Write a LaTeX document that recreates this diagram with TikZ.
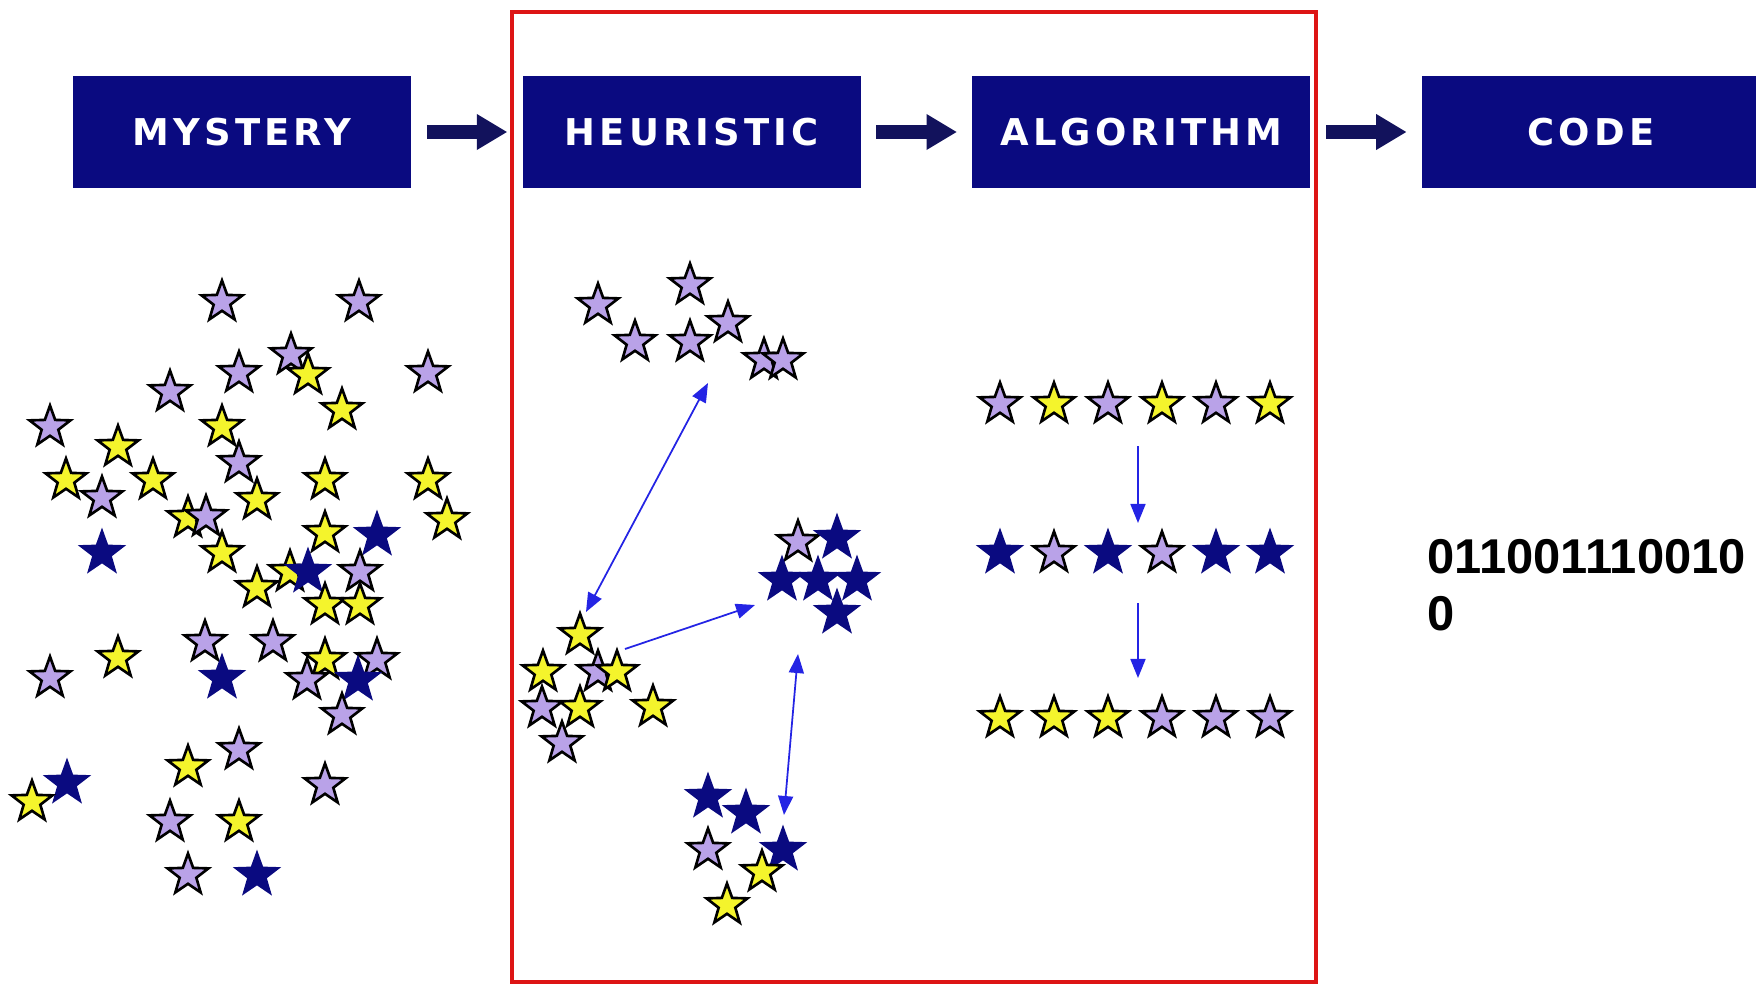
\documentclass[tikz,border=0pt]{standalone}
\usepackage{fontspec}
\usepackage{tikz}
\usetikzlibrary{arrows.meta,positioning,shapes.geometric}
\setmainfont{Liberation Sans}
\newfontfamily\headfont[LetterSpace=11]{DejaVu Sans}
\definecolor{Navy}{HTML}{0A0A80}
\definecolor{DeepNavy}{HTML}{12125C}
\definecolor{Lilac}{HTML}{B9A2E8}
\definecolor{StarYellow}{HTML}{F4F42C}
\definecolor{FrameRed}{HTML}{DD1515}
\definecolor{LinkBlue}{HTML}{2424E4}

\begin{document}
\begin{tikzpicture}[x=0.01cm, y=-0.01cm, node distance=1.1cm, >={Triangle[length=0.19cm, width=0.15cm]}]
\tikzset{box/.style={fill=Navy, minimum width=3.38cm, minimum height=1.12cm, inner sep=0pt, text=white, font=\headfont\bfseries\fontsize{10.5}{12}\selectfont}, blockarrow/.style={draw=DeepNavy, line width=0.14cm, -{Triangle[length=0.3cm, width=0.36cm, line width=0pt]}, shorten <=0.15cm, shorten >=0.15cm}, starbase/.style={star, star points=5, star point ratio=2.45, minimum size=0.43cm, inner sep=0pt, line width=0.75pt, draw=black}, lav/.style={starbase, fill=Lilac}, yel/.style={starbase, fill=StarYellow}, nav/.style={starbase, fill=Navy, draw=Navy}, link/.style={draw=LinkBlue, line width=0.5pt}}
\useasboundingbox (0,0) rectangle (1756,987);
\node[box] (mys) at (242,132) {MYSTERY};
\node[box, right=of mys] (heu) {HEURISTIC};
\node[box, right=of heu] (alg) {ALGORITHM};
\node[box, right=of alg] (cod) {CODE};
\foreach \a/\b in {mys/heu,heu/alg,alg/cod} \draw[blockarrow] (\a) -- (\b);
\draw[FrameRed, line width=0.04cm] (512,12) rectangle (1316,982);
% mystery: loose stars
\foreach \x/\y/\c [count=\i] in {222/302/lav, 359/302/lav, 291/355/lav, 239/373/lav, 428/373/lav, 308/375/yel, 170/392/lav, 342/410/yel, 50/427/lav, 222/427/yel, 118/447/yel, 239/463/lav, 66/480/yel, 153/480/yel, 325/480/yel, 428/480/yel, 102/498/lav, 257/500/yel, 188/518/yel, 206/517/lav, 447/520/yel, 325/533/yel, 377/535/nav, 102/553/nav, 222/553/yel, 290/572/yel, 308/572/nav, 360/572/lav, 257/588/yel, 325/605/yel, 360/605/yel, 205/642/lav, 273/642/lav, 118/658/yel, 325/660/yel, 377/660/lav, 50/678/lav, 222/678/nav, 307/680/lav, 358/680/nav, 342/715/lav, 239/750/lav, 188/767/yel, 67/783/nav, 32/802/yel, 325/785/lav, 170/822/lav, 239/822/yel, 188/875/lav, 257/875/nav}
  \node[\c] (m\i) at (\x,\y) {};
% heuristic: clusters
\foreach \x/\y/\c [count=\i] in {598/305/lav, 690/285/lav, 635/342/lav, 690/342/lav, 728/323/lav, 764/360/lav, 783/360/lav, 798/542/lav, 837/538/nav, 782/580/nav, 818/580/nav, 857/580/nav, 837/613/nav, 580/635/yel, 543/672/yel, 598/672/lav, 617/672/yel, 542/708/lav, 580/708/yel, 653/707/yel, 562/743/lav, 708/797/nav, 746/813/nav, 708/850/lav, 783/850/nav, 762/872/yel, 727/905/yel}
  \node[\c] (h\i) at (\x,\y) {};
\coordinate (l1a) at (586,612); \coordinate (l1b) at (708,383);
\coordinate (l2a) at (625,649); \coordinate (l2b) at (755,605);
\coordinate (l3a) at (798,654); \coordinate (l3b) at (784,815);
\draw[link, <->] (l1a) -- (l1b);
\draw[link, ->] (l2a) -- (l2b);
\draw[link, <->] (l3a) -- (l3b);
% algorithm: rows
\foreach \c [count=\i] in {lav,yel,lav,yel,lav,yel} \node[\c] (ra\i) at (946+54*\i,404) {};
\foreach \c [count=\i] in {nav,lav,nav,lav,nav,nav} \node[\c] (rb\i) at (946+54*\i,553) {};
\foreach \c [count=\i] in {yel,yel,yel,lav,lav,lav} \node[\c] (rc\i) at (946+54*\i,718) {};
\coordinate (d1a) at (1138,446); \coordinate (d1b) at (1138,523);
\coordinate (d2a) at (1138,603); \coordinate (d2b) at (1138,678);
\draw[link, ->] (d1a) -- (d1b);
\draw[link, ->] (d2a) -- (d2b);
\node[anchor=north west, inner sep=0pt, align=left, font=\bfseries\fontsize{13.9}{16.2}\selectfont] (bits) at (1427,539) {011001110010\\0};
\end{tikzpicture}
\end{document}
